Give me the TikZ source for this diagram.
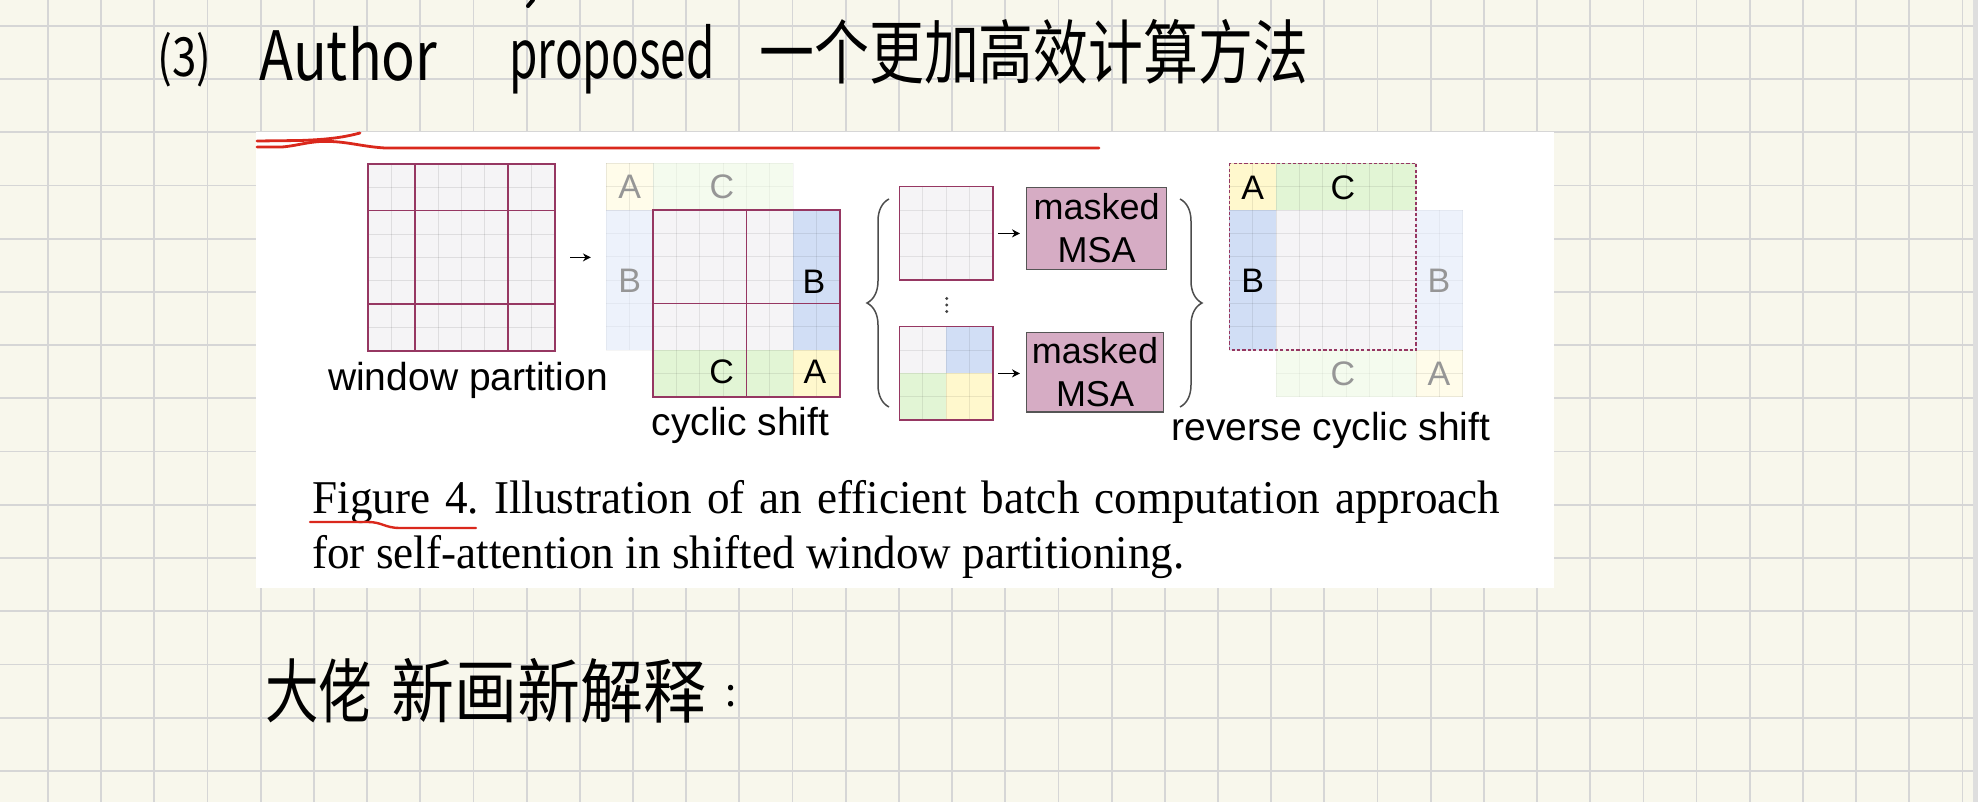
\documentclass[tikz,border=0pt]{standalone}
\usepackage{fontspec}
\setmainfont{Liberation Serif}
\setsansfont{Liberation Sans}
\newfontfamily\hwfont{Noto Sans CJK SC}
\usetikzlibrary{arrows.meta,fit,decorations.pathreplacing}
\frenchspacing

\definecolor{paper}{RGB}{248,247,236}
\definecolor{paperline}{RGB}{214,214,214}
\definecolor{edgestrip}{RGB}{222,222,222}
\definecolor{cellbg}{RGB}{245,244,246}
\definecolor{win}{RGB}{150,55,98}
\definecolor{blueA}{RGB}{209,222,245}
\definecolor{greenA}{RGB}{226,245,213}
\definecolor{yellowA}{RGB}{255,248,205}
\definecolor{blueF}{RGB}{237,242,251}
\definecolor{greenF}{RGB}{244,251,238}
\definecolor{yellowF}{RGB}{255,252,234}
\definecolor{fadetxt}{RGB}{150,150,150}
\definecolor{msa}{RGB}{214,172,196}
\definecolor{msaedge}{RGB}{85,85,85}
\definecolor{redpen}{RGB}{218,40,28}

\newcommand\cz{23.35}
\newcommand\cgrid[5]{%
  \foreach \i in {0,...,#3}{\draw[black, opacity=#5, line width=0.45pt] ({#1+\i*\cz},{#2}) -- ({#1+\i*\cz},{#2+#4*\cz});}%
  \foreach \j in {0,...,#4}{\draw[black, opacity=#5, line width=0.45pt] ({#1},{#2+\j*\cz}) -- ({#1+#3*\cz},{#2+\j*\cz});}%
}
\newcommand\cbox[5]{\fill[#5] ({#1},{#2}) rectangle ({#1+#3*\cz},{#2+#4*\cz});}

\tikzset{
  lbl/.style={font=\sffamily\fontsize{17}{19}\selectfont, inner sep=0},
  fadelbl/.style={lbl, text=fadetxt},
  figtxt/.style={font=\sffamily\fontsize{19.5}{22}\selectfont, inner sep=0, anchor=base},
  msabox/.style={draw=msaedge, fill=msa, line width=0.7pt, align=center,
    font=\sffamily\fontsize{18}{21.5}\selectfont, inner sep=0},
  winline/.style={draw=win, line width=0.8pt},
  arr/.style={-{Stealth[length=4pt,width=4pt]}, line width=0.6pt},
  brc/.style={decorate, decoration={brace, amplitude=11pt}, draw=black!70, line width=0.75pt},
  hw/.style={font=\hwfont, inner sep=0},
  pen/.style={draw=redpen, line width=1.4pt, line cap=round, line join=round},
  fitbox/.style={inner sep=0, draw=none}
}

\begin{document}
\begin{tikzpicture}[x=0.5pt,y=-0.5pt]
\useasboundingbox (0,0) rectangle (1978,802);
% paper
\fill[paper] (0,0) rectangle (1978,802);
\foreach \k in {0,...,36}{\draw[paperline, line width=0.9pt] ({48+53.18*\k},0) -- ({48+53.18*\k},802);}
\foreach \k in {0,...,14}{\draw[paperline, line width=0.9pt] (0,{26+53.2*\k}) -- (1978,{26+53.2*\k});}
\fill[edgestrip] (1973,0) rectangle (1978,802);
\draw[line width=2pt, line cap=round] (528,6) -- (533,0);

% handwriting
\node[hw, anchor=base west, font=\hwfont\fontsize{27}{30}\selectfont] (h3) at (157,77) {\resizebox{27pt}{\height}{(3)}};
\node[hw, anchor=base west, font=\hwfont\fontsize{34}{36}\selectfont] (hauthor) at (259,81) {\resizebox{89pt}{\height}{Author}};
\node[hw, anchor=base west, font=\hwfont\fontsize{34}{36}\selectfont] (hprop) at (509,79) {\resizebox{102.5pt}{\height}{proposed}};
\node[hw, anchor=west, font=\hwfont\fontsize{35}{38}\selectfont] (hcn) at (759,52) {\resizebox{274.5pt}{\height}{一个更加高效计算方法}};
\node[hw, anchor=west, font=\hwfont\fontsize{35}{38}\selectfont] (hb1) at (265,691) {\resizebox{53.5pt}{\height}{大佬}};
\node[hw, anchor=west, font=\hwfont\fontsize{35}{38}\selectfont] (hb2) at (391,691) {\resizebox{157.5pt}{\height}{新画新解释}};
\node[hw, font=\hwfont\fontsize{20}{22}\selectfont] (hb3) at (731,696) {:};

% figure paper
\fill[white] (256,132) rectangle (1554,588);

% ---------- window partition ----------
\cbox{368}{164}{8}{8}{cellbg}
\cgrid{368}{164}{8}{8}{0.09}
\draw[winline] (368,164) rectangle ({368+8*\cz},{164+8*\cz});
\draw[winline] ({368+2*\cz},164) -- ({368+2*\cz},{164+8*\cz});
\draw[winline] ({368+6*\cz},164) -- ({368+6*\cz},{164+8*\cz});
\draw[winline] (368,{164+2*\cz}) -- ({368+8*\cz},{164+2*\cz});
\draw[winline] (368,{164+6*\cz}) -- ({368+8*\cz},{164+6*\cz});
\node[fitbox, fit={(368,164) ({368+8*\cz},{164+8*\cz})}] (wp) {};
\node[figtxt] (wpt) at (468,391) {window partition};

% ---------- cyclic shift ----------
\cbox{606.3}{163.3}{2}{2}{yellowF}
\cbox{653}{163.3}{6}{2}{greenF}
\cbox{606.3}{210}{2}{6}{blueF}
\cgrid{606.3}{163.3}{2}{8}{0.04}
\cgrid{606.3}{163.3}{8}{2}{0.04}
\cbox{653}{210}{8}{8}{cellbg}
\cbox{(653+6*\cz)}{210}{2}{6}{blueA}
\cbox{653}{(210+6*\cz)}{6}{2}{greenA}
\cbox{(653+6*\cz)}{(210+6*\cz)}{2}{2}{yellowA}
\cgrid{653}{210}{8}{8}{0.08}
\draw[winline] (653,210) rectangle ({653+8*\cz},{210+8*\cz});
\draw[winline] ({653+4*\cz},210) -- ({653+4*\cz},{210+8*\cz});
\draw[winline] (653,{210+4*\cz}) -- ({653+8*\cz},{210+4*\cz});
\node[fitbox, fit={(653,210) ({653+8*\cz},{210+8*\cz})}] (cs) {};
\node[fitbox, fit={(606.3,163.3) ({653+8*\cz},{210+8*\cz})}] (csall) {};
\node[fadelbl] (csAf) at (629.7,187) {A};
\node[fadelbl] (csCf) at (722,187) {C};
\node[fadelbl] (csBf) at (629.7,281) {B};
\node[lbl] (csB) at (814,281.5) {B};
\node[lbl] (csC) at (721.7,372) {C};
\node[lbl] (csA) at (815,372) {A};
\node[figtxt] (cst) at (740.5,436) {cyclic shift};

\draw[arr, shorten <=7.5pt, shorten >=7.5pt] (wp.east) -- (wp.east -| csall.west);

% ---------- batch ----------
\draw[brc] (889,407) -- (889,199);
\draw[brc] (1180,199) -- (1180,407);

\cbox{899.3}{186.7}{4}{4}{cellbg}
\cgrid{899.3}{186.7}{4}{4}{0.08}
\draw[winline] (899.3,186.7) rectangle ({899.3+4*\cz},{186.7+4*\cz});
\node[fitbox, fit={(899.3,186.7) ({899.3+4*\cz},{186.7+4*\cz})}] (mt) {};

\cbox{899.3}{326.7}{2}{2}{cellbg}
\cbox{(899.3+2*\cz)}{326.7}{2}{2}{blueA}
\cbox{899.3}{(326.7+2*\cz)}{2}{2}{greenA}
\cbox{(899.3+2*\cz)}{(326.7+2*\cz)}{2}{2}{yellowA}
\cgrid{899.3}{326.7}{4}{4}{0.08}
\draw[winline] (899.3,326.7) rectangle ({899.3+4*\cz},{326.7+4*\cz});
\node[fitbox, fit={(899.3,326.7) ({899.3+4*\cz},{326.7+4*\cz})}] (mb) {};

\foreach \yy in {298.5,305,311.5}{\fill[black!75] (946.7,\yy) circle[radius=0.8pt];}

\node[msabox, minimum width=70pt, minimum height=40.8pt] (msa1) at (1096.7,228.5) {masked\\MSA};
\node[msabox, minimum width=68.3pt, minimum height=39.6pt] (msa2) at (1095,372.3) {masked\\MSA};
\draw[arr, shorten <=2.5pt, shorten >=3pt] (mt.east) -- (mt.east -| msa1.west);
\draw[arr, shorten <=2.5pt, shorten >=3pt] (mb.east) -- (mb.east -| msa2.west);

% ---------- reverse cyclic shift ----------
\cbox{1229.3}{163.3}{8}{8}{cellbg}
\cbox{1229.3}{163.3}{2}{2}{yellowA}
\cbox{(1229.3+2*\cz)}{163.3}{6}{2}{greenA}
\cbox{1229.3}{(163.3+2*\cz)}{2}{6}{blueA}
\cgrid{1229.3}{163.3}{8}{8}{0.08}
\cbox{(1229.3+8*\cz)}{(163.3+2*\cz)}{2}{6}{blueF}
\cbox{(1229.3+2*\cz)}{(163.3+8*\cz)}{6}{2}{greenF}
\cbox{(1229.3+8*\cz)}{(163.3+8*\cz)}{2}{2}{yellowF}
\cgrid{(1229.3+8*\cz)}{(163.3+2*\cz)}{2}{8}{0.04}
\cgrid{(1229.3+2*\cz)}{(163.3+8*\cz)}{8}{2}{0.04}
\draw[win, line width=0.7pt, dash pattern=on 1.6pt off 1.1pt] (1229.3,163.3) rectangle ({1229.3+8*\cz},{163.3+8*\cz});
\node[fitbox, fit={(1229.3,163.3) ({1229.3+8*\cz},{163.3+8*\cz})}] (rcs) {};
\node[lbl] (rA) at (1252.7,188) {A};
\node[lbl] (rC) at (1343,188) {C};
\node[lbl] (rB) at (1252.7,281) {B};
\node[fadelbl] (rBf) at (1439,281) {B};
\node[fadelbl] (rCf) at (1343,374) {C};
\node[fadelbl] (rAf) at (1439,374) {A};
\node[figtxt] (rcst) at (1331,441) {reverse cyclic shift};

% ---------- caption ----------
\node[anchor=base west, inner sep=0, font=\fontsize{23.5}{27}\selectfont] (cap1) at (312,514)
  {\scalebox{0.96}[1]{\makebox[618.75pt][s]{Figure 4. Illustration of an efficient batch computation approach}}};
\node[anchor=base west, inner sep=0, font=\fontsize{23.5}{27}\selectfont] (cap2) at (312,568)
  {\scalebox{0.96}[1]{for self-attention in shifted window partitioning.}};

% ---------- red pen ----------
\draw[pen] (257,141) -- (300,140.5) .. controls (330,139.5) and (345,137) .. (360,133);
\draw[pen] (257,147) -- (282,147) .. controls (295,146) and (305,142.5) .. (320,141.5) .. controls (345,140.5) and (360,146.5) .. (385,148) -- (1099,148);
\draw[pen, line width=1.2pt] (310,522) -- (368,522) .. controls (382,522) and (385,528) .. (400,528) -- (476,528);
\end{tikzpicture}
\end{document}
